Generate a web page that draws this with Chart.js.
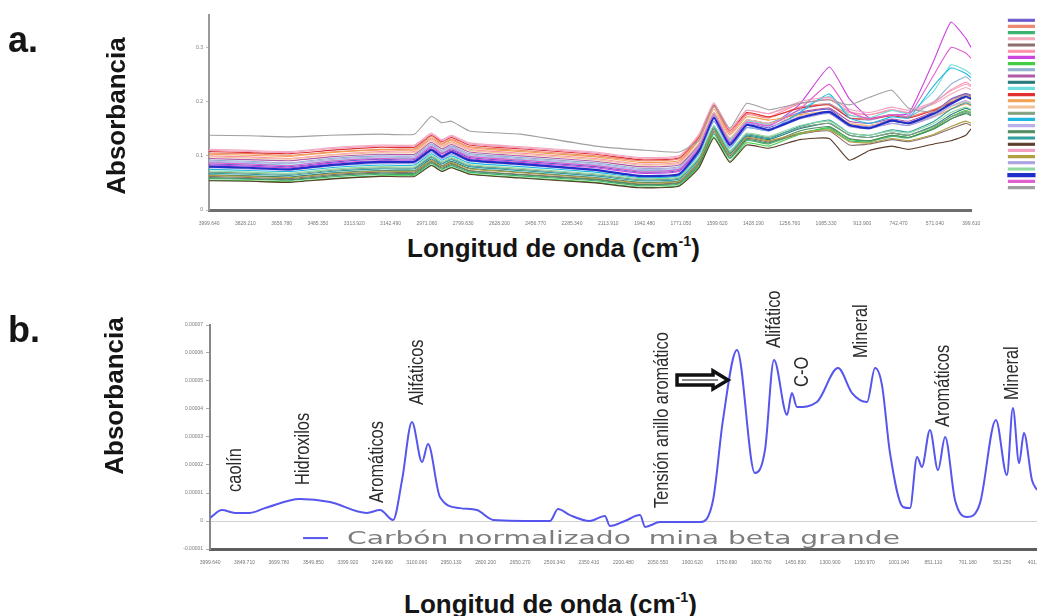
<!DOCTYPE html>
<html>
<head>
<meta charset="utf-8">
<script src="https://cdn.jsdelivr.net/npm/chart.js@4.4.0/dist/chart.umd.min.js"></script>
<style>
    body { margin: 0; width: 1037px; height: 616px; overflow: hidden; background: #fff; font-family: "Liberation Sans", Arial, sans-serif; position: relative; }
    canvas { position: absolute; left: 0; }
    .lbl { position: absolute; font-weight: bold; color: #151515; white-space: nowrap; line-height: 1; }
    .panel { font-size: 36px; left: 8px; }
    .ylab { font-size: 26px; transform: translate(-50%, -50%) rotate(-90deg); }
    .xlab { font-size: 26px; }
    .xlab sup { font-size: 0.55em; vertical-align: 0.75em; line-height: 0; }
</style>
</head>
<body>
<canvas id="chartA" width="1045" height="232" style="top:0"></canvas>
<canvas id="chartB" width="1037" height="290" style="top:280px"></canvas>

<div class="lbl panel" style="top:22px">a.</div>
<div class="lbl panel" style="top:312px">b.</div>
<div class="lbl ylab" style="left:116px; top:116px">Absorbancia</div>
<div class="lbl ylab" style="left:114px; top:396px">Absorbancia</div>
<div class="lbl xlab" style="left:407px; top:235px">Longitud de onda (cm<sup>-1</sup>)</div>
<div class="lbl xlab" style="left:404px; top:591px">Longitud de onda (cm<sup>-1</sup>)</div>

<script>
// ---------- panel a: all samples ----------
const wavenumbersA = [4000, 3810, 3620, 3430, 3190, 3030, 2950, 2900, 2855, 2770, 2530, 2175, 1965, 1780, 1685, 1615, 1540, 1460, 1355, 1210, 1070, 975, 880, 775, 695, 575, 495, 425, 400];

const muestra01 = [0.085,0.083,0.080,0.088,0.094,0.093,0.116,0.104,0.111,0.097,0.090,0.080,0.070,0.073,0.114,0.172,0.124,0.160,0.152,0.178,0.186,0.158,0.155,0.166,0.160,0.180,0.205,0.215,0.212];
const muestra02 = [0.105,0.104,0.101,0.107,0.112,0.113,0.136,0.123,0.131,0.117,0.110,0.100,0.091,0.094,0.133,0.190,0.143,0.176,0.170,0.190,0.196,0.175,0.170,0.176,0.172,0.186,0.200,0.212,0.208];
const muestra03 = [0.058,0.057,0.055,0.061,0.066,0.066,0.086,0.075,0.082,0.070,0.063,0.054,0.045,0.048,0.082,0.140,0.095,0.128,0.122,0.142,0.150,0.128,0.126,0.136,0.133,0.150,0.168,0.180,0.176];
const muestra04 = [0.112,0.110,0.108,0.115,0.120,0.120,0.142,0.130,0.138,0.124,0.117,0.107,0.097,0.100,0.140,0.198,0.150,0.184,0.178,0.196,0.205,0.182,0.176,0.186,0.180,0.196,0.214,0.226,0.222];
const muestra05 = [0.062,0.060,0.058,0.065,0.070,0.070,0.090,0.079,0.086,0.073,0.066,0.057,0.048,0.051,0.088,0.146,0.100,0.132,0.126,0.140,0.146,0.120,0.122,0.130,0.126,0.138,0.150,0.160,0.156];
const muestra06 = [0.100,0.098,0.095,0.102,0.108,0.108,0.131,0.118,0.126,0.112,0.105,0.095,0.085,0.088,0.130,0.192,0.140,0.178,0.172,0.196,0.204,0.180,0.176,0.184,0.180,0.198,0.222,0.236,0.230];
const muestra07 = [0.083,0.081,0.078,0.086,0.091,0.091,0.113,0.101,0.109,0.095,0.088,0.078,0.068,0.071,0.112,0.172,0.122,0.160,0.155,0.195,0.264,0.205,0.170,0.176,0.178,0.277,0.347,0.317,0.300];
const muestra08 = [0.055,0.054,0.052,0.058,0.063,0.064,0.083,0.072,0.079,0.067,0.060,0.051,0.042,0.045,0.080,0.135,0.090,0.124,0.118,0.140,0.152,0.130,0.128,0.138,0.134,0.152,0.172,0.184,0.180];
const muestra09 = [0.092,0.090,0.087,0.095,0.100,0.100,0.122,0.110,0.118,0.104,0.097,0.087,0.077,0.080,0.120,0.178,0.130,0.166,0.160,0.184,0.196,0.170,0.166,0.176,0.172,0.200,0.232,0.246,0.238];
const muestra10 = [0.095,0.093,0.091,0.098,0.103,0.103,0.125,0.113,0.121,0.107,0.100,0.090,0.080,0.083,0.122,0.180,0.132,0.166,0.160,0.180,0.188,0.164,0.160,0.168,0.164,0.182,0.204,0.214,0.210];
const muestra11 = [0.065,0.063,0.061,0.068,0.073,0.073,0.094,0.082,0.090,0.077,0.070,0.060,0.051,0.054,0.090,0.150,0.104,0.136,0.130,0.150,0.160,0.138,0.134,0.142,0.138,0.156,0.176,0.188,0.184];
const muestra12 = [0.088,0.086,0.083,0.091,0.096,0.096,0.118,0.106,0.114,0.100,0.093,0.083,0.073,0.076,0.118,0.176,0.128,0.164,0.158,0.186,0.210,0.176,0.170,0.184,0.178,0.220,0.268,0.258,0.250];
const muestra13 = [0.108,0.106,0.104,0.110,0.116,0.116,0.138,0.126,0.134,0.120,0.113,0.103,0.093,0.096,0.136,0.194,0.146,0.180,0.172,0.188,0.194,0.170,0.168,0.174,0.170,0.184,0.198,0.208,0.204];
const muestra14 = [0.103,0.101,0.099,0.106,0.111,0.111,0.133,0.121,0.129,0.115,0.108,0.098,0.088,0.091,0.130,0.186,0.138,0.172,0.166,0.176,0.180,0.160,0.156,0.164,0.160,0.172,0.186,0.196,0.192];
const muestra15 = [0.098,0.096,0.094,0.101,0.106,0.106,0.128,0.116,0.124,0.110,0.103,0.093,0.083,0.086,0.124,0.180,0.132,0.166,0.160,0.174,0.182,0.160,0.156,0.164,0.160,0.174,0.190,0.200,0.196];
const muestra16 = [0.070,0.068,0.066,0.073,0.078,0.078,0.099,0.087,0.095,0.082,0.075,0.065,0.056,0.059,0.096,0.154,0.108,0.140,0.134,0.152,0.160,0.138,0.134,0.142,0.138,0.154,0.172,0.182,0.178];
const muestra17 = [0.075,0.073,0.071,0.078,0.083,0.083,0.104,0.092,0.100,0.087,0.080,0.070,0.060,0.063,0.104,0.164,0.114,0.152,0.146,0.180,0.214,0.170,0.160,0.172,0.170,0.230,0.262,0.252,0.244];
const muestra18 = [0.090,0.088,0.086,0.093,0.098,0.098,0.120,0.108,0.116,0.102,0.095,0.085,0.075,0.078,0.117,0.174,0.126,0.160,0.154,0.172,0.180,0.156,0.152,0.160,0.156,0.172,0.192,0.202,0.198];
const muestra19 = [0.060,0.058,0.056,0.063,0.068,0.068,0.088,0.077,0.084,0.072,0.065,0.056,0.047,0.050,0.085,0.143,0.097,0.130,0.124,0.146,0.154,0.132,0.128,0.138,0.134,0.150,0.168,0.178,0.174];
const muestra20 = [0.068,0.066,0.064,0.071,0.076,0.076,0.097,0.085,0.093,0.080,0.073,0.063,0.054,0.057,0.094,0.152,0.105,0.138,0.132,0.154,0.166,0.142,0.138,0.148,0.144,0.164,0.186,0.198,0.194];
const muestra21 = [0.054,0.053,0.051,0.057,0.062,0.062,0.082,0.071,0.078,0.066,0.059,0.050,0.041,0.044,0.078,0.133,0.088,0.120,0.114,0.130,0.132,0.092,0.110,0.118,0.112,0.122,0.128,0.138,0.150];
const muestra22 = [0.110,0.108,0.106,0.113,0.118,0.118,0.140,0.128,0.136,0.122,0.115,0.105,0.095,0.098,0.138,0.196,0.148,0.184,0.178,0.200,0.208,0.186,0.180,0.190,0.184,0.200,0.220,0.232,0.228];
const muestra23 = [0.064,0.062,0.060,0.067,0.072,0.072,0.092,0.081,0.088,0.076,0.069,0.059,0.050,0.053,0.090,0.148,0.102,0.134,0.128,0.142,0.148,0.126,0.124,0.132,0.128,0.140,0.154,0.164,0.160];
const muestra24 = [0.078,0.076,0.074,0.081,0.086,0.086,0.107,0.095,0.103,0.090,0.083,0.073,0.063,0.066,0.106,0.164,0.116,0.152,0.146,0.168,0.178,0.154,0.150,0.160,0.156,0.174,0.196,0.208,0.204];
const muestra25 = [0.072,0.070,0.068,0.075,0.080,0.080,0.101,0.089,0.097,0.084,0.077,0.067,0.058,0.061,0.098,0.156,0.110,0.142,0.136,0.156,0.164,0.142,0.138,0.146,0.142,0.160,0.180,0.190,0.186];
const muestra26 = [0.080,0.078,0.075,0.083,0.089,0.089,0.111,0.098,0.107,0.092,0.085,0.074,0.063,0.066,0.110,0.170,0.120,0.157,0.148,0.170,0.181,0.157,0.151,0.165,0.160,0.178,0.196,0.210,0.206];
const muestra27 = [0.087,0.085,0.082,0.090,0.095,0.095,0.117,0.105,0.113,0.099,0.092,0.082,0.072,0.075,0.116,0.176,0.126,0.162,0.156,0.186,0.232,0.182,0.168,0.176,0.174,0.250,0.300,0.290,0.280];
const muestra28 = [0.138,0.137,0.135,0.138,0.140,0.140,0.173,0.161,0.164,0.146,0.140,0.118,0.111,0.107,0.129,0.192,0.151,0.197,0.185,0.197,0.203,0.194,0.208,0.221,0.188,0.181,0.203,0.212,0.208];

const seriesA = [muestra01, muestra02, muestra03, muestra04, muestra05, muestra06, muestra07, muestra08, muestra09, muestra10,
                 muestra11, muestra12, muestra13, muestra14, muestra15, muestra16, muestra17, muestra18, muestra19, muestra20,
                 muestra21, muestra22, muestra23, muestra24, muestra25, muestra26, muestra27, muestra28];
const coloursA = ['#6a5acd', '#ec8a72', '#3cb371', '#f4a9bd', '#8b6f6f', '#ff8fab', '#cc44dd', '#44cc44', '#8fb0d0', '#b05aa8',
                  '#207878', '#6fdede', '#e03030', '#f0a050', '#f2c29a', '#80a080', '#20b8e0', '#b8b0e8', '#508a60', '#30a0a0',
                  '#5a3a2a', '#f0a0c0', '#b0a040', '#a8a0e0', '#90d8a0', '#1f2fc8', '#e060d0', '#a0a0a0'];

const xTicksA = [3999.64, 3828.21, 3656.78, 3485.35, 3313.92, 3142.49, 2971.06, 2799.63, 2628.20, 2456.77, 2285.34,
                 2113.91, 1942.48, 1771.05, 1599.62, 1428.19, 1256.76, 1085.33, 913.90, 742.47, 571.04, 399.61];
const yTicksA = [0, 0.1, 0.2, 0.3];

// ---------- panel b: normalised coal spectrum ----------
const wavenumbersB = [4000, 3948, 3891, 3826, 3761, 3608, 3478, 3317, 3260, 3203, 3164, 3121, 3077, 3051, 2999, 2912, 2838, 2768,
                      2520, 2485, 2433, 2346, 2281, 2259, 2194, 2128, 2106, 2041, 1867, 1810, 1767, 1706, 1628, 1584, 1545, 1488,
                      1467, 1445, 1358, 1266, 1205, 1140, 1105, 1075, 1040, 983, 953, 922, 901, 866, 831, 800, 757, 705, 648,
                      579, 531, 505, 478, 457, 422, 400];
const carbonB = [1.1e-6, 3.9e-6, 2.9e-6, 2.9e-6, 4.6e-6, 7.9e-6, 6.8e-6, 2.9e-6, 3.9e-6, 0.4e-6, 14.6e-6, 35.4e-6, 21.1e-6, 27.5e-6,
                 8.6e-6, 4.6e-6, 3.9e-6, 0.4e-6, 0, 4.3e-6, 2.1e-6, 0, 1.8e-6, -1.8e-6, 0, 2.1e-6, -2.1e-6, -0.4e-6, -0.4e-6,
                 7.5e-6, 36.1e-6, 61.1e-6, 17.1e-6, 25.4e-6, 57.5e-6, 37.9e-6, 45.7e-6, 40.7e-6, 42.5e-6, 54.6e-6, 45.7e-6,
                 42.5e-6, 54.6e-6, 48.6e-6, 24.3e-6, 5.0e-6, 4.6e-6, 22.9e-6, 19.3e-6, 32.5e-6, 18.2e-6, 30.0e-6, 7.5e-6,
                 1.4e-6, 6.4e-6, 36.1e-6, 16.4e-6, 40.4e-6, 20.7e-6, 31.4e-6, 14.6e-6, 11.1e-6];

const xTicksB = [3999.64, 3849.71, 3699.78, 3549.85, 3399.92, 3249.99, 3100.06, 2950.13, 2800.20, 2650.27, 2500.34, 2350.41, 2200.48,
                 2050.55, 1900.62, 1750.69, 1600.76, 1450.83, 1300.90, 1150.97, 1001.04, 851.11, 701.18, 551.25, 401.32];
const yTicksB = [-0.00001, 0, 0.00001, 0.00002, 0.00003, 0.00004, 0.00005, 0.00006, 0.00007];

// band labels (anchored at the foot of each vertical label)
const bandLabels = ['caolín', 'Hidroxilos', 'Aromáticos', 'Alifáticos', 'Tensión anillo aromático', 'Alifático', 'C-O', 'Mineral', 'Aromáticos', 'Mineral'];
const bandWn = [3887, 3591, 3269, 3095, 2032, 1541, 1423, 1162, 809, 505];
const bandAbs = [1.04e-5, 1.29e-5, 0.64e-5, 4.14e-5, 0.46e-5, 6.18e-5, 4.79e-5, 5.82e-5, 3.36e-5, 4.32e-5];

const tickFont = { size: 5, family: 'Liberation Sans' };

function fixTicks(list) {
    return scale => { scale.ticks = list.map(v => ({ value: v })); };
}

// Chart a
new Chart(document.getElementById('chartA'), {
    type: 'line',
    data: {
        datasets: seriesA.map((s, i) => ({
            label: 'Muestra ' + (i + 1),
            data: s.map((v, j) => ({ x: wavenumbersA[j], y: v })),
            borderColor: coloursA[i],
            backgroundColor: coloursA[i],
            borderWidth: i === 25 ? 2.2 : 1.1,
            pointRadius: 0,
            tension: 0.15,
            fill: false
        })).reverse()
    },
    options: {
        responsive: false,
        animation: false,
        devicePixelRatio: 1,
        layout: { padding: { top: 15 } },
        plugins: {
            tooltip: { enabled: false },
            legend: {
                position: 'right',
                align: 'start',
                reverse: true,
                labels: {
                    boxWidth: 26,
                    boxHeight: 2,
                    padding: 4.2,
                    font: { size: 1.2 },
                    generateLabels: chart => Chart.defaults.plugins.legend.labels.generateLabels(chart).map(l => ({ ...l, text: '' }))
                }
            }
        },
        scales: {
            x: {
                type: 'linear',
                reverse: true,
                min: 399.6,
                max: 4000,
                afterBuildTicks: fixTicks(xTicksA),
                afterFit: s => { s.height = 22; s.paddingLeft = 0; s.paddingRight = 0; },
                grid: { display: false },
                border: { color: '#6e6e6e', width: 3 },
                ticks: { autoSkip: false, maxRotation: 0, padding: 3, font: tickFont, color: '#777', callback: v => v.toFixed(3) }
            },
            y: {
                min: 0,
                max: 0.36,
                afterBuildTicks: fixTicks(yTicksA),
                afterFit: s => { s.width = 209; s.paddingTop = 0; s.paddingBottom = 0; },
                grid: { drawOnChartArea: false, tickLength: 3, color: '#bbb' },
                border: { color: '#999', width: 2 },
                ticks: { font: tickFont, color: '#777', padding: 3, callback: v => v === 0 ? '0' : v.toFixed(1) }
            },
            yR: {
                position: 'right',
                afterFit: s => { s.width = 33; },
                grid: { display: false },
                border: { display: false },
                ticks: { display: false }
            }
        }
    }
});

// annotations for chart b
const bandPlugin = {
    id: 'bands',
    afterDatasetsDraw(chart) {
        const { ctx, scales: { x, y } } = chart;
        ctx.save();
        ctx.fillStyle = '#2b2b2b';
        ctx.font = '20px "Liberation Sans", Arial, sans-serif';
        ctx.textBaseline = 'middle';
        ctx.textAlign = 'left';
        bandLabels.forEach((t, i) => {
            ctx.save();
            ctx.translate(x.getPixelForValue(bandWn[i]), y.getPixelForValue(bandAbs[i]));
            ctx.rotate(-Math.PI / 2);
            ctx.scale(0.82, 1);
            ctx.fillText(t, 0, 0);
            ctx.restore();
        });

        // arrow pointing at the aromatic ring band
        const x0 = x.getPixelForValue(1967), x1 = x.getPixelForValue(1745), yc = y.getPixelForValue(5.04e-5);
        ctx.beginPath();
        ctx.moveTo(x0, yc - 5);
        ctx.lineTo(x1 - 15, yc - 5);
        ctx.lineTo(x1 - 15, yc - 9);
        ctx.lineTo(x1, yc);
        ctx.lineTo(x1 - 15, yc + 9);
        ctx.lineTo(x1 - 15, yc + 5);
        ctx.lineTo(x0, yc + 5);
        ctx.closePath();
        ctx.fillStyle = '#fff';
        ctx.fill();
        ctx.lineWidth = 3.5;
        ctx.strokeStyle = '#111';
        ctx.stroke();
        ctx.beginPath();
        ctx.moveTo(x0 + 5, yc);
        ctx.lineTo(x1 - 10, yc);
        ctx.lineWidth = 2;
        ctx.strokeStyle = '#888';
        ctx.stroke();

        // legend inside the plot
        const ds = chart.data.datasets[0];
        const lx = x.getPixelForValue(3595), ly = y.getPixelForValue(-0.61e-5);
        ctx.beginPath();
        ctx.moveTo(lx, ly);
        ctx.lineTo(lx + 25, ly);
        ctx.lineWidth = 2;
        ctx.strokeStyle = ds.borderColor;
        ctx.stroke();
        ctx.font = '18px "DejaVu Sans", sans-serif';
        ctx.fillStyle = '#7d7d7d';
        const w = ctx.measureText(ds.label).width;
        ctx.translate(lx + 44, ly + 1);
        ctx.scale(553 / w, 1);
        ctx.fillText(ds.label, 0, 0);
        ctx.restore();
    }
};

// Chart b
new Chart(document.getElementById('chartB'), {
    type: 'line',
    data: {
        datasets: [{
            label: 'Carbón normalizado  mina beta grande',
            data: carbonB.map((v, j) => ({ x: wavenumbersB[j], y: v })),
            borderColor: '#5656ee',
            borderWidth: 2,
            pointRadius: 0,
            cubicInterpolationMode: 'monotone',
            fill: false
        }]
    },
    options: {
        responsive: false,
        animation: false,
        devicePixelRatio: 1,
        layout: { padding: { top: 45 } },
        plugins: { legend: { display: false }, tooltip: { enabled: false } },
        scales: {
            x: {
                type: 'linear',
                reverse: true,
                min: 400,
                max: 4000,
                afterBuildTicks: fixTicks(xTicksB),
                afterFit: s => { s.height = 21; s.paddingLeft = 0; s.paddingRight = 0; },
                grid: { display: false },
                border: { color: '#5e5e5e', width: 3 },
                ticks: { autoSkip: false, maxRotation: 0, padding: 3, font: tickFont, color: '#777', callback: v => v.toFixed(3) }
            },
            y: {
                min: -0.00001,
                max: 0.00007,
                afterBuildTicks: fixTicks(yTicksB),
                afterFit: s => { s.width = 210; s.paddingTop = 0; s.paddingBottom = 0; },
                grid: {
                    tickLength: 4,
                    tickColor: '#aaa',
                    color: ctx => Math.abs(ctx.tick.value) < 1e-12 ? '#d0d0d0' : 'rgba(0,0,0,0)'
                },
                border: { color: '#888', width: 2 },
                ticks: { font: tickFont, color: '#777', padding: 3, callback: v => Math.abs(v) < 1e-12 ? '0' : v.toFixed(5) }
            }
        }
    },
    plugins: [bandPlugin]
});
</script>
</body>
</html>
